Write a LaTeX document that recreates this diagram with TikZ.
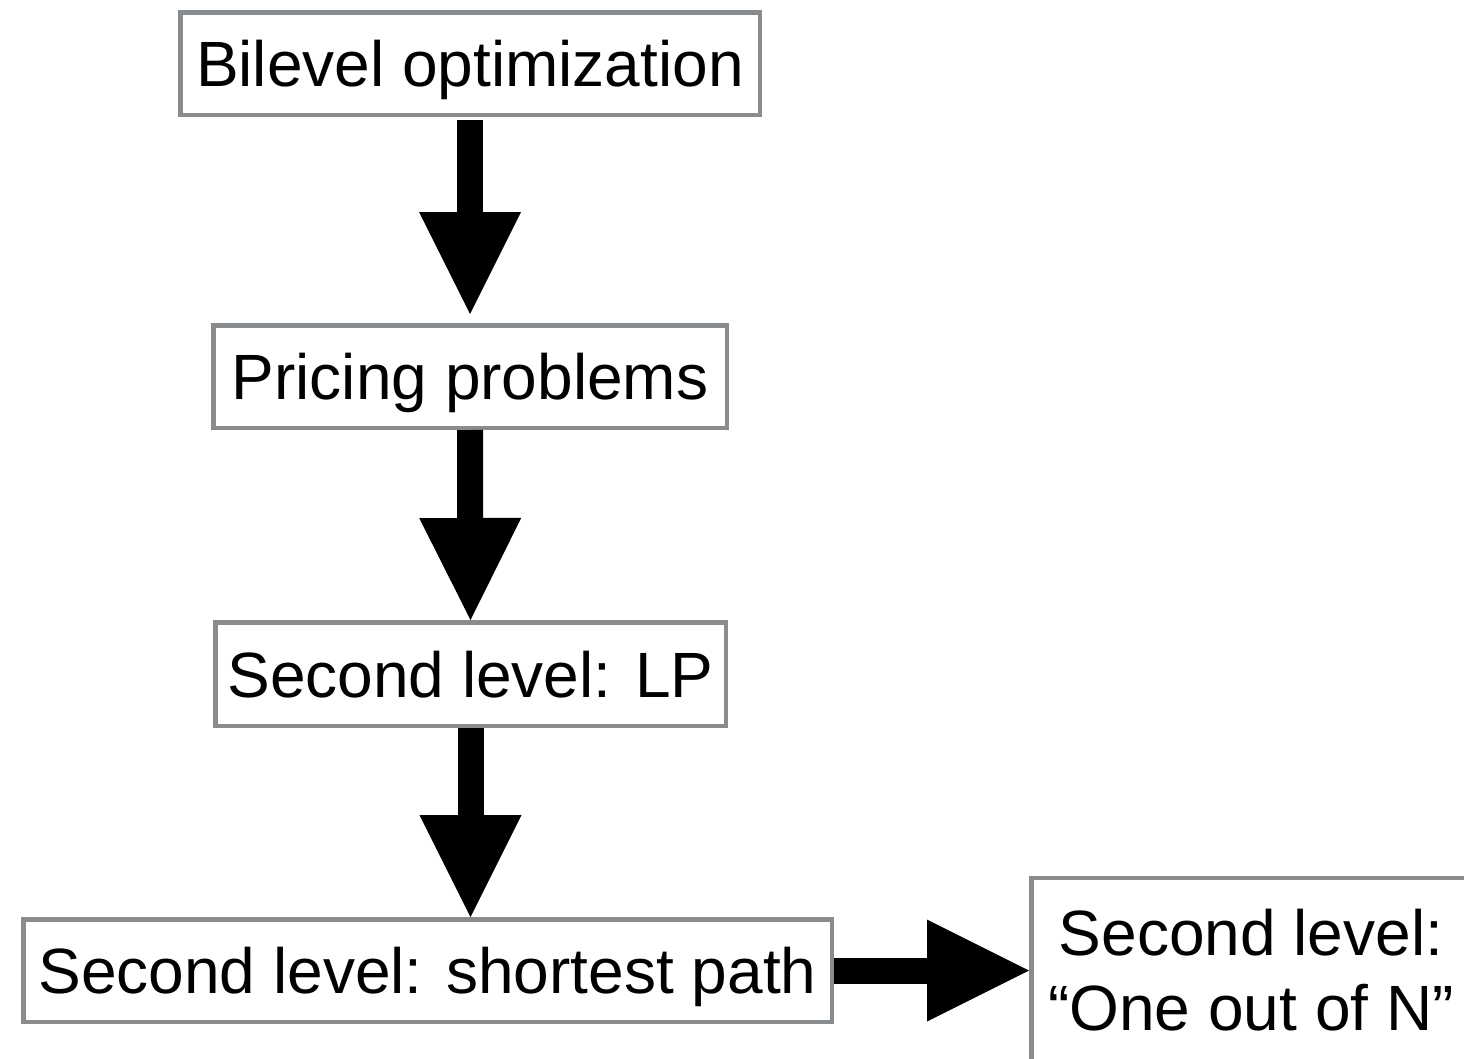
\documentclass[tikz,border=0pt]{standalone}
\usepackage{fontspec}
\setmainfont{Liberation Sans}
\usetikzlibrary{arrows.meta}
\definecolor{framegray}{HTML}{898C8F}

\tikzset{
  stagebox/.style={draw=framegray, line width=4.5pt, fill=white, inner sep=0pt,
    font=\fontsize{64}{75}\selectfont, text height=46pt, text depth=0pt},
  flowarrow/.style={line width=26pt, black,
    -{Triangle[length=102pt, width=102pt, line width=0pt]}},
}

\begin{document}
\begin{tikzpicture}[x=1pt, y=-1pt]
  \useasboundingbox (0,0) rectangle (1464,1058);
  \clip (0,0) rectangle (1464,1058);
  \fill[white] (0,0) rectangle (1464,1058);

  % stages of the reduction chain
  \node[stagebox, minimum width=579.5pt, minimum height=102.5pt] (bilevel) at (470,63.5) {Bilevel optimization};
  \node[stagebox, minimum width=513.5pt, minimum height=102.5pt] (pricing) at (470,376.5) {Pricing problems};
  \node[stagebox, minimum width=510.5pt, minimum height=103.5pt] (lp) at (470.5,674) {Second level: LP};
  \node[stagebox, minimum width=808.5pt, minimum height=102.5pt] (spath) at (427.5,970.5) {Second level: shortest path};
  % the last box runs past the lower edge; its two lines stay centred on the arrow
  \node[stagebox, text height=121pt, text depth=21pt, align=center,
        minimum width=439.5pt, minimum height=204pt] (oneofn) at (1251,980) {Second level:\\“One out of N”};

  % block arrows between the stages
  \draw[flowarrow, shorten <=3pt, shorten >=9pt] (bilevel.south) -- (pricing.north);
  \draw[flowarrow] (pricing.south) -- (lp.north);
  \draw[flowarrow] (lp.south) -- (lp.south |- spath.north);
  \draw[flowarrow] (spath.east) -- (spath.east -| oneofn.west);
\end{tikzpicture}
\end{document}
